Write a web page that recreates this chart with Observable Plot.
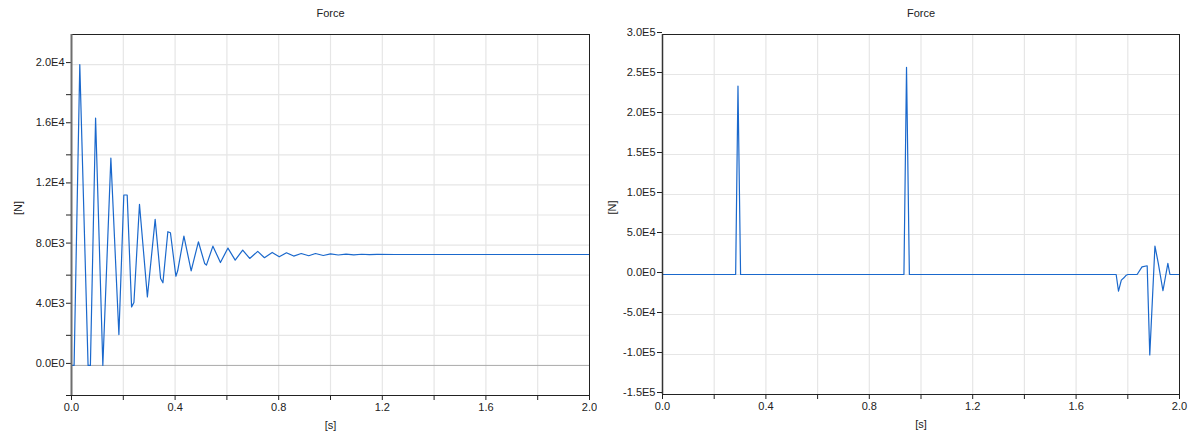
<!DOCTYPE html>
<html>
<head>
<meta charset="utf-8">
<script src="https://cdn.jsdelivr.net/npm/d3@7"></script>
<script src="https://cdn.jsdelivr.net/npm/@observablehq/plot@0.6"></script>
<style>
  html, body { margin: 0; padding: 0; background: #fff; }
  #wrap { display: flex; width: 1194px; height: 437px; }
  svg { font-family: "Liberation Sans", Arial, sans-serif; }
</style>
</head>
<body>
<div id="wrap"></div>
<script>
// ---- data ----
const chartTitle = "Force";
const xLabel = "[s]";
const yLabel = "[N]";

const leftTimes = [0, 0.01, 0.032, 0.064, 0.073, 0.093, 0.121, 0.152, 0.183, 0.202, 0.215, 0.232, 0.241, 0.2625, 0.293, 0.323, 0.344, 0.353, 0.372, 0.382, 0.403, 0.410, 0.434, 0.462, 0.490, 0.514, 0.521, 0.546, 0.575, 0.604, 0.632, 0.661, 0.688, 0.719, 0.745, 0.775, 0.802, 0.830, 0.858, 0.887, 0.916, 0.942, 0.972, 1.0, 1.03, 1.06, 1.09, 1.12, 1.15, 1.18, 1.25, 2.0];
const leftForce = [0, 0, 20000, 0, 0, 16450, 0, 13780, 2050, 11330, 11330, 3890, 4180, 10710, 4560, 9710, 5780, 5490, 8890, 8820, 5930, 6290, 8600, 6290, 8220, 6780, 6670, 7930, 6840, 7800, 7000, 7670, 7110, 7580, 7160, 7510, 7220, 7490, 7270, 7440, 7290, 7440, 7310, 7420, 7340, 7400, 7355, 7390, 7365, 7385, 7375, 7375];

const rightTimes = [0, 0.283, 0.292, 0.302, 0.934, 0.944, 0.955, 1.755, 1.764, 1.775, 1.785, 1.794, 1.80, 1.836, 1.855, 1.875, 1.885, 1.905, 1.918, 1.936, 1.955, 1.963, 2.0];
const rightForce = [0, 0, 235500, 0, 0, 259000, 0, 0, -20900, -7000, -4100, -900, 0, 0, 9600, 10900, -100600, 35600, 14000, -20300, 14000, 0, 0];

const xTicks = [0, 0.4, 0.8, 1.2, 1.6, 2.0];
const xMinorTicks = [0.2, 0.6, 1.0, 1.4, 1.8];
const xGrid = [0.2, 0.4, 0.6, 0.8, 1.0, 1.2, 1.4, 1.6, 1.8];

const leftYTicks = [0, 4000, 8000, 12000, 16000, 20000];
const leftYMinorTicks = [-2000, 2000, 6000, 10000, 14000, 18000];
const leftYGrid = [-2000, 2000, 4000, 6000, 8000, 10000, 12000, 14000, 16000, 18000, 20000];

const rightYTicks = [-150000, -100000, -50000, 0, 50000, 100000, 150000, 200000, 250000, 300000];
const rightYGrid = [-100000, -50000, 0, 50000, 100000, 150000, 200000, 250000];

// ---- helpers ----
function sci(d) {
  if (d === 0) return "0.0E0";
  const e = Math.floor(Math.log10(Math.abs(d)) + 1e-9);
  const m = d / Math.pow(10, e);
  return m.toFixed(1) + "E" + e;
}

const lineColor = "#1a68cc";
const gridColor = "#e6e6e6";
const textColor = "#222";

function makeChart(cfg) {
  const data = cfg.times.map((t, i) => ({t, f: cfg.force[i]}));
  const marks = [
    Plot.ruleX(xGrid, {stroke: gridColor, strokeWidth: 1.2}),
    Plot.ruleY(cfg.yGrid, {stroke: gridColor, strokeWidth: 1.2}),
  ];
  if (cfg.zeroLine) marks.push(Plot.ruleY([0], {stroke: "#aaaaaa", strokeWidth: 1}));
  marks.push(
    Plot.line(data, {x: "t", y: "f", stroke: lineColor, strokeWidth: 1.2}),
    Plot.frame({stroke: "#222", strokeWidth: 1}),
    Plot.axisX(xTicks, {tickSize: 5, tickPadding: 3, fontSize: 11, tickFormat: d => d.toFixed(1), label: null, color: textColor}),
    Plot.axisX(xMinorTicks, {tickSize: 5, tickFormat: () => "", label: null}),
    Plot.axisY(cfg.yTicks, {tickSize: 5, tickPadding: 2, fontSize: 11, tickFormat: sci, label: null, dy: -2, color: textColor}),
    Plot.ruleX([0], {stroke: cfg.leftAxisColor, strokeWidth: cfg.leftAxisWidth}),
    Plot.text([chartTitle], {text: d => d, frameAnchor: "top", lineAnchor: "middle", dy: -21, fontSize: 11, fill: textColor}),
    Plot.text([yLabel], {text: d => d, frameAnchor: "left", lineAnchor: "middle", dx: cfg.yLabelDx, rotate: -90, fontSize: 11, fill: textColor}),
    Plot.text([xLabel], {text: d => d, frameAnchor: "bottom", lineAnchor: "middle", dy: 30, fontSize: 11, fill: textColor})
  );
  if (cfg.yMinor) marks.push(Plot.axisY(cfg.yMinor, {tickSize: 5, tickFormat: () => "", label: null}));
  return Plot.plot({
    width: 597,
    height: 437,
    marginLeft: cfg.marginLeft,
    marginRight: cfg.marginRight,
    marginTop: 34,
    marginBottom: cfg.marginBottom,
    style: {fontFamily: "'Liberation Sans', Arial, sans-serif", fontSize: "11px", color: textColor, background: "#fff"},
    x: {domain: [0, 2]},
    y: {domain: cfg.yDomain},
    marks
  });
}

const wrap = document.getElementById("wrap");
wrap.appendChild(makeChart({
  times: leftTimes, force: leftForce,
  yDomain: [-2000, 22000], yTicks: leftYTicks, yMinor: leftYMinorTicks, yGrid: leftYGrid,
  marginLeft: 71, marginRight: 8, marginBottom: 42, yLabelDx: -53,
  zeroLine: true, leftAxisColor: "#6e6e6e", leftAxisWidth: 2
}));
wrap.appendChild(makeChart({
  times: rightTimes, force: rightForce,
  yDomain: [-150000, 300000], yTicks: rightYTicks, yMinor: null, yGrid: rightYGrid,
  marginLeft: 65, marginRight: 15, marginBottom: 43, yLabelDx: -50,
  zeroLine: false, leftAxisColor: "#333", leftAxisWidth: 1.5
}));
</script>
</body>
</html>
